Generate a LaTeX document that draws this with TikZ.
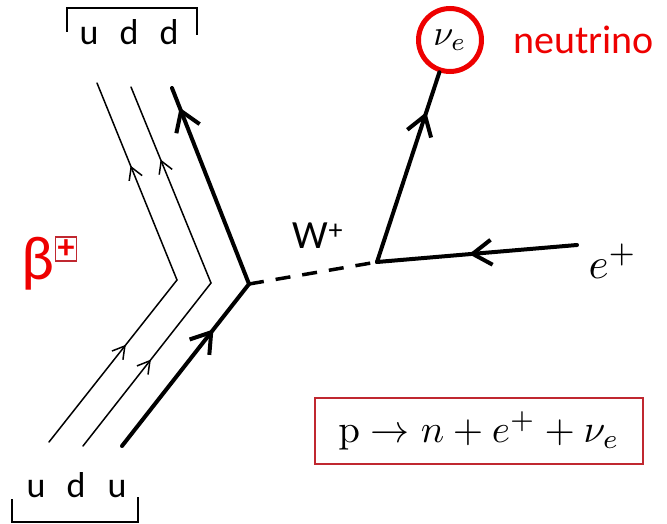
\documentclass[tikz,border=0pt]{standalone}
\usepackage{amsmath}
\usepackage[no-math]{fontspec}
\setmainfont{Carlito}
\usepackage{xcolor}
\usetikzlibrary{arrows.meta, decorations.markings, positioning}
\definecolor{betared}{RGB}{238,0,0}
\definecolor{boxred}{RGB}{192,40,48}

\begin{document}
\begin{tikzpicture}[
    x=1pt, y=-1pt,
    quark/.style={line width=1.5pt, line cap=round},
    heavy/.style={line width=4pt, line cap=round},
    midarrow/.style={postaction={decorate}, decoration={markings,
        mark=at position #1 with {\arrow{Straight Barb[length=12pt, width=14pt]}}}},
    bigarrow/.style={postaction={decorate}, decoration={markings,
        mark=at position #1 with {\arrow{Straight Barb[length=19pt, width=25pt]}}}},
    flavour/.style={font=\fontsize{36}{36}\selectfont, inner sep=0pt, anchor=base},
    bracket/.style={line width=1.8pt}
]
    \useasboundingbox (0,0) rectangle (667,524);

    % quarks
    \node [flavour] (ut) at (89,45) {u};
    \node [flavour] (dt1) at (129,45) {d};
    \node [flavour] (dt2) at (169,45) {d};
    \node [flavour] (ub1) at (36,497) {u};
    \node [flavour] (db) at (76,497) {d};
    \node [flavour] (ub2) at (117,497) {u};
    \draw [bracket] (67,32) -- (67,8) -- (197,8) -- (197,35);
    \draw [bracket] (12,499) -- (12,522) -- (138,522) -- (138,497);

    \coordinate (b1) at (49,442);  \coordinate (v1) at (177,280);  \coordinate (t1) at (97,83);
    \coordinate (b2) at (83,446);  \coordinate (v2) at (211,283);  \coordinate (t2) at (131,87);
    \coordinate (b3) at (122,446); \coordinate (v3) at (249,284);  \coordinate (t3) at (172,88);
    \coordinate (wv) at (377,262);
    \coordinate (ein) at (577,245);

    \draw [quark, midarrow=0.6] (b1) -- (v1);
    \draw [quark, midarrow=0.58] (v1) -- (t1);
    \draw [quark, midarrow=0.53] (b2) -- (v2);
    \draw [quark, midarrow=0.63] (v2) -- (t2);
    \draw [heavy, bigarrow=0.72] (b3) -- (v3);
    \draw [heavy, bigarrow=0.9] (v3) -- (t3);

    % W boson and leptons
    \draw [line width=3.5pt, dash pattern=on 15pt off 12pt] (v3) -- (wv);
    \node [font=\fontsize{40}{40}\selectfont] (wlabel) at (318,236) {W\textsuperscript{+}};
    \node [circle, draw=betared, line width=5pt, minimum size=63pt, inner sep=0pt] (nu) at (450,40)
          {\scalebox{3.6}{$\nu_e$}};
    \node [text=betared, font=\fontsize{40}{40}\selectfont, right=26pt of nu] (neutrino) {neutrino};
    \draw [heavy, bigarrow=0.79] (wv) -- (nu);
    \draw [heavy, bigarrow=0.54] (ein) -- (wv);
    \node (elabel) at (613,261) {\scalebox{4.3}{$e^+$}};

    % decay label
    \node [text=betared, font=\fontsize{62}{62}\selectfont] (beta) at (38,264) {β};
    \node [draw=boxred, line width=1.2pt, text=betared, minimum width=21pt, minimum height=24pt,
           inner sep=0pt, font=\bfseries\fontsize{34}{34}\selectfont] (plus) at (66,249) {+};

    \node [draw=boxred, line width=1.5pt, minimum width=328pt, minimum height=66pt] (reaction) at (479,431)
           {\scalebox{3.9}{$\mathrm{p} \to n + e^{+} + \nu_e$}};
\end{tikzpicture}
\end{document}
